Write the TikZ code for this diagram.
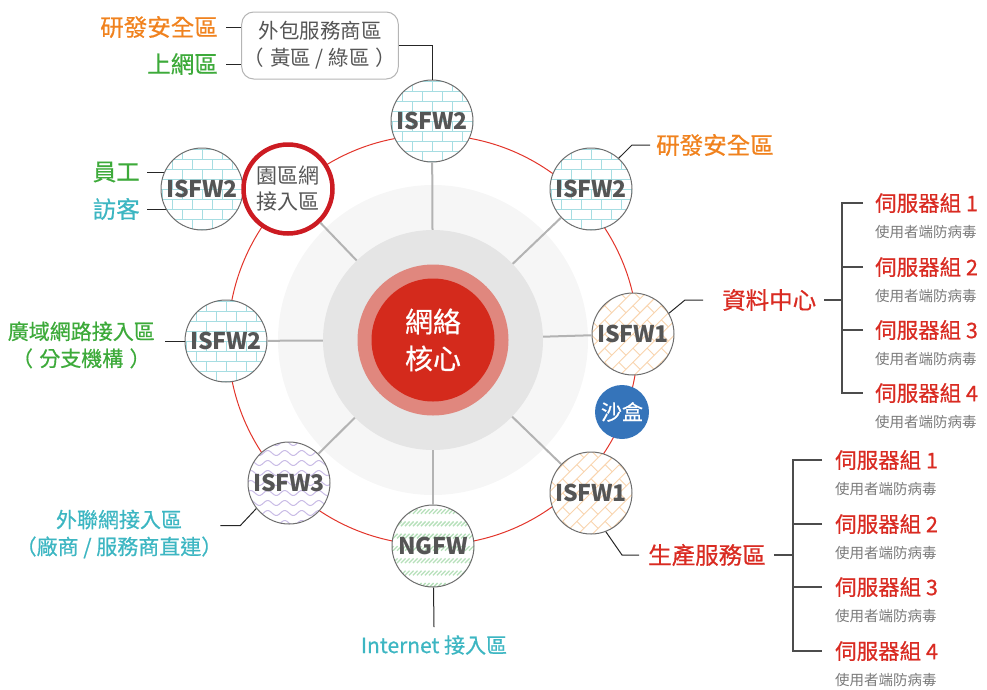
\documentclass[tikz,border=0pt]{standalone}
\usepackage{fontspec}
\setmainfont{Noto Sans CJK TC}
\newfontfamily\medfont[FakeBold=0.6]{Noto Sans CJK TC}
\usetikzlibrary{positioning,backgrounds}

\definecolor{corered}{HTML}{D42A1C}
\definecolor{corepink}{HTML}{E0877E}
\definecolor{hubgray}{HTML}{E5E5E5}
\definecolor{halogray}{HTML}{F6F6F6}
\definecolor{ringred}{HTML}{E2342A}
\definecolor{campusred}{HTML}{CC1B22}
\definecolor{spokegray}{HTML}{B3B3B3}
\definecolor{edgegray}{HTML}{6E6E6E}
\definecolor{fwtext}{HTML}{555555}
\definecolor{brickblue}{HTML}{A6DDE2}
\definecolor{brickorange}{HTML}{F9D4AE}
\definecolor{wavepurple}{HTML}{C9BCE6}
\definecolor{hatchgreen}{HTML}{B6E0BA}
\definecolor{sandblue}{HTML}{3574BA}
\definecolor{laborange}{HTML}{F0821E}
\definecolor{labgreen}{HTML}{3DAA3A}
\definecolor{labteal}{HTML}{3DB6C2}
\definecolor{labred}{HTML}{D92B22}
\definecolor{subgray}{HTML}{7A7A7A}
\definecolor{boxgray}{HTML}{B5B5B5}

% fills for the firewall circles (drawn round the origin)
\newcommand{\brickfill}[2]{%
  \begin{scope}[rotate=#2, color=#1, line width=0.9pt]
    \foreach \j in {-6,...,5} {
      \draw (-70,\j*10) -- (70,\j*10);
      \pgfmathtruncatemacro{\brickoff}{mod(\j+6,2)*10}
      \foreach \i in {-4,...,3}
        \draw (\i*20+\brickoff,\j*10) -- (\i*20+\brickoff,\j*10+10);
    }
  \end{scope}}
\newcommand{\wavefill}{%
  \begin{scope}[color=wavepurple, line width=1pt]
    \foreach \j in {-5,...,5}
      \draw plot[domain=-46:46, samples=60, smooth] (\x, {\j*10+2.5*sin(\x*21.18)});
  \end{scope}}
\newcommand{\hatchfill}{%
  \begin{scope}[color=hatchgreen, line width=1.3pt]
    \foreach \j in {-1,...,7}
      \foreach \i in {-12,...,11}
        \draw (\i*4,-34.5+\j*12.3+2.3) -- ++(4.6,-4.6);
  \end{scope}}
% one firewall: name, position, fill, label
\newcommand{\firewall}[4]{%
  \coordinate (#1pos) at (#2);
  \begin{scope}
    \clip (#1pos) circle (41);
    \fill[white] (#1pos) circle (41);
    \begin{scope}[shift={(#1pos)}] #3 \end{scope}
  \end{scope}
  \node[fw] (#1) at (#1pos) {#4};}

\begin{document}
\begin{tikzpicture}[
    x=1pt, y=-1pt,
    fw/.style={circle, draw=edgegray, line width=1pt,
        minimum size=82pt, inner sep=0pt, text=fwtext,
        font=\fontsize{23}{26}\selectfont\bfseries},
    spoke/.style={draw=spokegray, line width=2pt},
    leader/.style={draw=black!85, line width=1pt},
    tree/.style={draw=black!70, line width=1.2pt},
    tag/.style={inner sep=0pt, font=\fontsize{23.5}{28}\selectfont\medfont},
    zone/.style={inner sep=0pt, align=center, font=\fontsize{21}{27}\selectfont\medfont},
    srvgroup/.style={inner sep=0pt, anchor=west, text=labred,
        font=\fontsize{21.5}{26}\selectfont\medfont},
    srvnote/.style={inner sep=0pt, anchor=west, text=subgray,
        font=\fontsize{14.5}{18}\selectfont}
]
\useasboundingbox (0,0) rectangle (987,689);

% core
\node[circle, fill=halogray, minimum size=310pt] (halo) at (433,340) {};
\draw[ringred, line width=1pt] (halo.center) circle (205);
\node[circle, fill=hubgray, minimum size=220pt] (hub) at (halo.center) {};
\node[circle, fill=corepink, minimum size=151pt] (corering) at (hub.center) {};
\node[circle, fill=corered, minimum size=123pt, text=white, align=center,
    font=\fontsize{28}{37}\selectfont\medfont] (core) at (hub.center) {網絡\\核心};

% firewalls on the ring
\firewall{topfw}{432,121}{\brickfill{brickblue}{0}}{ISFW2}
\firewall{rdfw}{591,189}{\brickfill{brickblue}{0}}{ISFW2}
\firewall{dcfw}{633,334}{\brickfill{brickorange}{45}}{ISFW1}
\firewall{prodfw}{591,493}{\brickfill{brickorange}{45}}{ISFW1}
\firewall{ngfw}{433,546}{\hatchfill}{NGFW}
\firewall{extfw}{289,483}{\wavefill}{ISFW3}
\firewall{wanfw}{226,341}{\brickfill{brickblue}{0}}{ISFW2}
\firewall{lanfw}{202,189}{\brickfill{brickblue}{0}}{ISFW2}
\node[circle, draw=campusred, line width=4.5pt, fill=white, minimum size=89pt,
    inner sep=0pt, align=center, text=fwtext,
    font=\fontsize{21}{26}\selectfont] (campus) at (288,189) {園區網\\接入區};
\node[circle, fill=sandblue, minimum size=54pt, inner sep=0pt, text=white,
    font=\fontsize{21}{24}\selectfont\medfont] (sandbox) at (622,412) {沙盒};

% spokes
\foreach \n in {topfw,rdfw,dcfw,prodfw,ngfw,extfw,wanfw,campus}
    \draw[spoke] (hub) -- (\n);

% vendor box
\node[draw=boxgray, line width=1pt, rounded corners=12pt, minimum width=152pt,
    minimum height=67pt, inner xsep=2pt, align=center, text=fwtext,
    font=\fontsize{20.5}{27}\selectfont] (vendor) at (320,45.5)
    {外包服務商區\\（\hspace{0.3em}黃區 / 綠區\hspace{0.3em}）};
\node[tag, text=laborange, anchor=east] (vendorrd) at (218,27) {研發安全區};
\node[tag, text=labgreen, anchor=east] (vendorweb) at (218,64) {上網區};
\draw[leader] ([xshift=8pt]vendorrd.east) -- (vendorrd.east -| vendor.west);
\draw[leader] ([xshift=8pt]vendorweb.east) -- (vendorweb.east -| vendor.west);
\draw[leader] (vendor.east) -- (vendor.east -| topfw) -- (topfw);

% campus side
\node[tag, text=labgreen, anchor=east] (staff) at (140,172) {員工};
\node[tag, text=labteal, anchor=east] (guest) at (140,209) {訪客};
\begin{pgfonlayer}{background}
\draw[leader] ([xshift=7pt]staff.east) -- (staff.east -| lanfw);
\draw[leader] ([xshift=7pt]guest.east) -- (guest.east -| lanfw);
\end{pgfonlayer}

% R&D
\node[tag, text=laborange, anchor=west] (rdzone) at (656,145) {研發安全區};
\draw[leader] (rdfw.48) -- ([xshift=-24pt]rdzone.west) -- ([xshift=-6pt]rdzone.west);

% data centre
\node[tag, text=labred, anchor=west] (dc) at (722,300) {資料中心};
\draw[leader] (dcfw.30) -- ([xshift=-37pt]dc.west) -- ([xshift=-19pt]dc.west);
\foreach \k/\y in {1/203,2/267,3/330,4/393} {
    \node[srvgroup] (dcg\k) at (875,\y) {伺服器組 \k};
    \node[srvnote] (dcn\k) at (875,{\y+29}) {使用者端防病毒};
}
\coordinate (dcstem) at ([xshift=-33pt]dcg1.west);
\draw[tree] ([xshift=8pt]dc.east) -- (dcstem |- dc.east);
\draw[tree] ([xshift=-12pt]dcg1.west) -- ([xshift=-33pt]dcg1.west)
    -- ([xshift=-33pt]dcg4.west) -- ([xshift=-12pt]dcg4.west);
\draw[tree] ([xshift=-12pt]dcg2.west) -- ([xshift=-33pt]dcg2.west);
\draw[tree] ([xshift=-12pt]dcg3.west) -- ([xshift=-33pt]dcg3.west);

% production
\node[tag, text=labred, anchor=west] (prod) at (648,555) {生產服務區};
\draw[leader] (prodfw.-69) -- ([xshift=-26pt]prod.west) -- ([xshift=-9pt]prod.west);
\foreach \k/\y in {1/460,2/524,3/587,4/651} {
    \node[srvgroup] (prodg\k) at (835,\y) {伺服器組 \k};
    \node[srvnote] (prodn\k) at (835,{\y+29}) {使用者端防病毒};
}
\coordinate (prodstem) at ([xshift=-42pt]prodg1.west);
\draw[tree] ([xshift=8pt]prod.east) -- (prodstem |- prod.east);
\draw[tree] ([xshift=-13pt]prodg1.west) -- ([xshift=-42pt]prodg1.west)
    -- ([xshift=-42pt]prodg4.west) -- ([xshift=-13pt]prodg4.west);
\draw[tree] ([xshift=-13pt]prodg2.west) -- ([xshift=-42pt]prodg2.west);
\draw[tree] ([xshift=-13pt]prodg3.west) -- ([xshift=-42pt]prodg3.west);

% WAN
\node[zone, text=labgreen, anchor=east] (wan) at (155,345)
    {廣域網路接入區\\（\hspace{0.3em}分支機構\hspace{0.3em}）};
\coordinate (wanend) at ([xshift=10pt]wan.east);
\draw[leader] (wanend |- wanfw) -- (wanfw);

% extranet
\node[zone, text=labteal] (ext) at (119,534) {外聯網接入區\\（廠商 / 服務商直連）};
\draw[leader] (extfw.218) -- ++(-16,17) -- ++(-20,0);

% internet
\node[zone, text=labteal] (inet) at (434,645) {Internet 接入區};
\draw[leader] (ngfw) -- ([yshift=8pt]inet.north);

\end{tikzpicture}
\end{document}
